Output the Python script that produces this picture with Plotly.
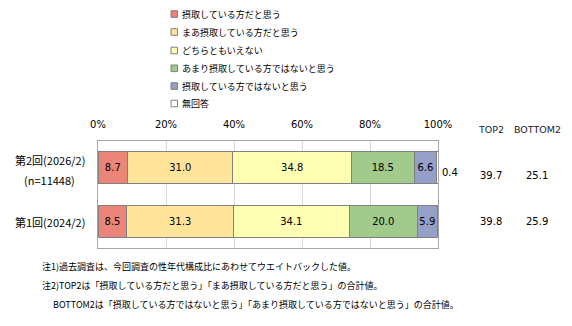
import plotly.graph_objects as go

categories = ["第2回(2026/2)", "第1回(2024/2)"]
cat_label_lines = [["第2回(2026/2)", "(n=11448)"], ["第1回(2024/2)"]]
series_names = ["摂取している方だと思う", "まあ摂取している方だと思う", "どちらともいえない",
                "あまり摂取している方ではないと思う", "摂取している方ではないと思う", "無回答"]
values = [
    [8.7, 8.5],
    [31.0, 31.3],
    [34.8, 34.1],
    [18.5, 20.0],
    [6.6, 5.9],
    [0.4, 0.2],
]
top2 = [39.7, 39.8]
bottom2 = [25.1, 25.9]
x_ticks = [0, 20, 40, 60, 80, 100]
x_tick_labels = ["0%", "20%", "40%", "60%", "80%", "100%"]
notes = [
    "注1)過去調査は、今回調査の性年代構成比にあわせてウエイトバックした値。",
    "注2)TOP2は「摂取している方だと思う」「まあ摂取している方だと思う」の合計値。",
    "BOTTOM2は「摂取している方ではないと思う」「あまり摂取している方ではないと思う」の合計値。",
]
colors = ["#EC8579", "#FFE59A", "#FFFFB3", "#A0CB8C", "#969FC8", "#FFFFFF"]

W, H = 572, 326
L, R, T, B = 98, 438, 141, 248
JP = "Noto Sans CJK JP"
LAT = "DejaVu Sans"

def px(x):
    return (x - L) / (R - L)

def py(y):
    return (B - y) / (B - T)

fig = go.Figure()
for i, (name, vals) in enumerate(zip(series_names, values)):
    show_text = i < 5
    fig.add_trace(go.Bar(
        name=name, y=categories, x=vals, orientation="h",
        marker=dict(color=colors[i], line=dict(color="#808080", width=1)),
        text=[f"{v:.1f}" for v in vals] if show_text else None,
        textposition="inside" if show_text else "none",
        insidetextanchor="middle",
        textangle=0,
        textfont=dict(family=LAT, size=10, color="#000000"),
        constraintext="none",
        showlegend=False,
        hoverinfo="skip",
    ))

annotations = []
# 無回答 outside label for first row
annotations.append(dict(x=100, y=categories[0], xref="x", yref="y", text=f"{values[5][0]:.1f}",
                        showarrow=False, xanchor="left", xshift=2, yshift=-5,
                        font=dict(family=LAT, size=10, color="#000")))
# category labels (centre lines on the first line's centre)
label_y = [[160, 180], [222]]
for lines, ys in zip(cat_label_lines, label_y):
    for j, (ln, yy) in enumerate(zip(lines, ys)):
        annotations.append(dict(x=px(49.5), y=py(yy), xref="paper", yref="paper", text=ln,
                                showarrow=False, xanchor="center", yanchor="middle",
                                font=dict(family=JP, size=11, color="#000")))
# TOP2/BOTTOM2
hdr_font = dict(family=LAT, size=9.5, color="#1a1a2e")
annotations.append(dict(x=px(491), y=py(129), xref="paper", yref="paper", text="TOP2", showarrow=False,
                        xanchor="center", yanchor="middle", font=hdr_font))
annotations.append(dict(x=px(537), y=py(129), xref="paper", yref="paper", text="BOTTOM2", showarrow=False,
                        xanchor="center", yanchor="middle", font=hdr_font))
row_y = [175, 221]
for k in range(len(categories)):
    annotations.append(dict(x=px(491), y=py(row_y[k]), xref="paper", yref="paper", text=f"{top2[k]:.1f}",
                            showarrow=False, xanchor="center", yanchor="middle",
                            font=dict(family=LAT, size=10, color="#000")))
    annotations.append(dict(x=px(537), y=py(row_y[k]), xref="paper", yref="paper", text=f"{bottom2[k]:.1f}",
                            showarrow=False, xanchor="center", yanchor="middle",
                            font=dict(family=LAT, size=10, color="#000")))

# legend (manual)
shapes = []
leg_y = [14, 32, 50.5, 68.3, 86, 103.5]
for i, name in enumerate(series_names):
    yc = leg_y[i]
    shapes.append(dict(type="rect", xref="paper", yref="paper",
                       x0=px(171), x1=px(177.5), y0=py(yc + 3.3), y1=py(yc - 3.3),
                       fillcolor=colors[i], line=dict(color="#808080", width=1)))
    annotations.append(dict(x=px(180), y=py(yc), xref="paper", yref="paper", text=name,
                            showarrow=False, xanchor="left", yanchor="middle",
                            font=dict(family=JP, size=9, color="#000")))

# notes
note_y = [266.5, 285, 304]
note_x = [40, 40, 51]
for t, yy, xx in zip(notes, note_y, note_x):
    annotations.append(dict(x=px(xx), y=py(yy), xref="paper", yref="paper", text=t,
                            showarrow=False, xanchor="left", yanchor="middle",
                            font=dict(family=JP, size=9, color="#000")))

fig.update_layout(
    barmode="stack",
    bargap=0.4,
    width=W, height=H,
    margin=dict(l=L, r=W - R, t=T, b=H - B, pad=0),
    paper_bgcolor="white", plot_bgcolor="white",
    showlegend=False,
    annotations=annotations,
    shapes=shapes,
    xaxis=dict(side="top", range=[0, 100], tickvals=x_ticks, ticktext=x_tick_labels,
               showgrid=True, gridcolor="#D9D9D9", gridwidth=1,
               showline=True, linecolor="#A6A6A6", mirror=True, zeroline=False,
               ticks="", ticklabelstandoff=8,
               tickfont=dict(family=LAT, size=10, color="#000")),
    yaxis=dict(categoryorder="array", categoryarray=categories, autorange="reversed",
               showticklabels=False, showline=True, linecolor="#A6A6A6", mirror=True,
               showgrid=False, zeroline=False, ticks=""),
)

fig.write_html("out.html")
